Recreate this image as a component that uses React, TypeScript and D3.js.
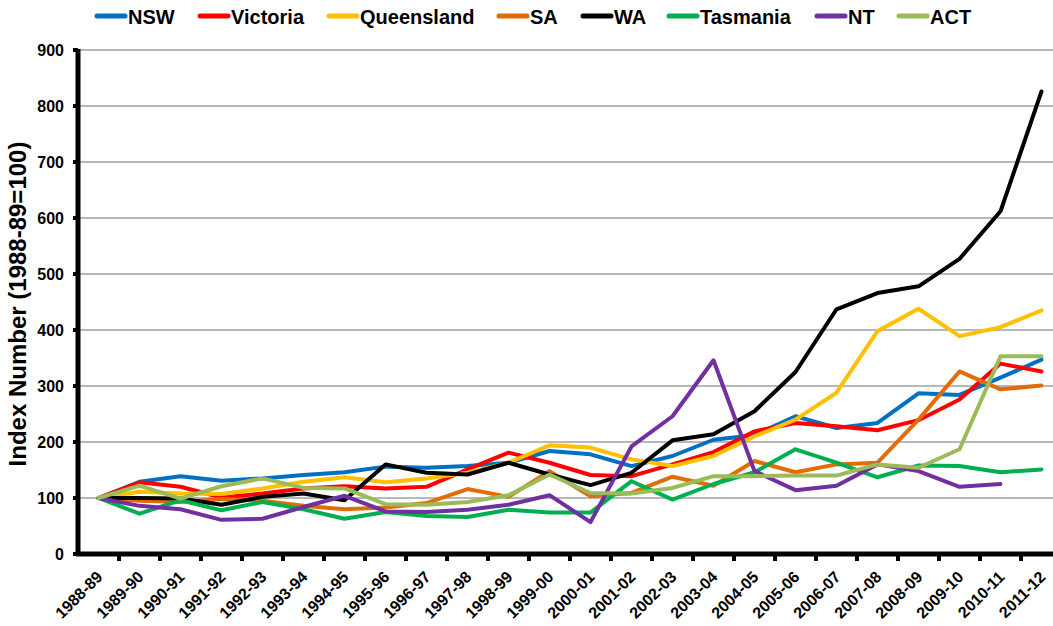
import React from "react";
import * as d3 from "d3";

const categories = [
  "1988-89", "1989-90", "1990-91", "1991-92", "1992-93", "1993-94", "1994-95", "1995-96",
  "1996-97", "1997-98", "1998-99", "1999-00", "2000-01", "2001-02", "2002-03", "2003-04",
  "2004-05", "2005-06", "2006-07", "2007-08", "2008-09", "2009-10", "2010-11", "2011-12",
];

const nsw = [100, 129, 139, 131, 135, 141, 146, 156, 154, 157, 163, 184, 178, 157, 175, 204, 212, 246, 225, 234, 287, 284, 315, 347];
const victoria = [100, 128, 120, 101, 108, 117, 121, 117, 120, 151, 181, 163, 141, 139, 160, 182, 219, 234, 228, 221, 239, 276, 340, 326];
const queensland = [100, 111, 108, 107, 117, 129, 137, 128, 135, 145, 163, 194, 190, 169, 157, 175, 210, 240, 288, 398, 438, 389, 405, 435];
const sa = [100, 95, 93, 98, 95, 86, 80, 83, 91, 116, 102, 148, 103, 109, 138, 122, 166, 146, 160, 163, 240, 326, 294, 301];
const wa = [100, 100, 99, 88, 102, 108, 96, 160, 145, 142, 163, 142, 123, 145, 203, 214, 255, 325, 437, 466, 478, 527, 612, 826];
const tasmania = [100, 72, 96, 78, 93, 80, 63, 75, 68, 66, 79, 74, 74, 130, 97, 125, 146, 187, 163, 137, 158, 157, 146, 151];
const nt: (number | null)[] = [100, 86, 80, 61, 63, 84, 104, 76, 75, 79, 88, 105, 57, 192, 246, 346, 148, 114, 122, 160, 148, 120, 125, null];
const act = [100, 122, 99, 121, 135, 118, 117, 89, 88, 93, 105, 142, 109, 108, 118, 139, 139, 140, 140, 160, 154, 187, 353, 353];

const yTicks = [0, 100, 200, 300, 400, 500, 600, 700, 800, 900];

const seriesNames = ["NSW", "Victoria", "Queensland", "SA", "WA", "Tasmania", "NT", "ACT"];
const seriesValues = [nsw, victoria, queensland, sa, wa, tasmania, nt, act];
const seriesColors = ["#0070C0", "#FF0000", "#FFC000", "#E36C09", "#000000", "#00B050", "#7030A0", "#9BBB59"];
const legendX = [95, 198, 327, 497, 581, 667, 815, 897];

const FONT = "'Liberation Sans', Arial, Helvetica, sans-serif";

export default function App() {
  const W = 1053;
  const H = 626;
  const left = 78;
  const x = d3.scaleBand<string>().domain(categories).range([left, left + 41 * 24]).padding(0);
  const y = d3.scaleLinear().domain([0, 900]).range([554, 50]);
  const cx = (c: string) => (x(c) as number) + x.bandwidth() / 2;

  const line = d3
    .line<number | null>()
    .defined((d) => d !== null)
    .x((_, i) => cx(categories[i]))
    .y((d) => y(d as number));

  return (
    <svg width={W} height={H} style={{ position: "absolute", left: 0, top: 0, background: "#fff" }} fontFamily={FONT}>
      {/* gridlines */}
      {yTicks.filter((t) => t > 0).map((t) => (
        <line key={"g" + t} x1={left} x2={W} y1={y(t)} y2={y(t)} stroke="#A0A0A0" strokeWidth={1.6} />
      ))}
      {/* series */}
      {seriesValues.map((vals, i) => (
        <path key={seriesNames[i]} d={line(vals) || ""} fill="none" stroke={seriesColors[i]} strokeWidth={4}
          strokeLinejoin="round" strokeLinecap="round" />
      ))}
      {/* y axis */}
      <line x1={left} x2={left} y1={y(900) - 1} y2={y(0) + 2} stroke="#000" strokeWidth={5} />
      {yTicks.map((t) => (
        <g key={"yt" + t}>
          <line x1={left - 5} x2={left} y1={y(t)} y2={y(t)} stroke="#000" strokeWidth={4} />
          <text x={64} y={y(t)} dy="0.36em" textAnchor="end" fontSize={16} fontWeight="bold" fill="#000">{t}</text>
        </g>
      ))}
      {/* x axis */}
      <line x1={left - 2} x2={W} y1={y(0)} y2={y(0)} stroke="#000" strokeWidth={5} />
      {categories.map((c, i) => (
        <line key={"xt" + c} x1={(x(c) as number) + x.bandwidth()} x2={(x(c) as number) + x.bandwidth()}
          y1={y(0)} y2={y(0) + 7} stroke="#000" strokeWidth={4} />
      ))}
      {categories.map((c) => (
        <text key={"xl" + c} transform={`translate(${cx(c) + 5},578) rotate(-45)`} textAnchor="end"
          fontSize={16} fontWeight="bold" fill="#000">{c}</text>
      ))}
      {/* y title */}
      <text transform="translate(26,304) rotate(-90)" textAnchor="middle" fontSize={24} fontWeight="bold" fill="#000">
        Index Number (1988-89=100)
      </text>
      {/* legend */}
      {seriesNames.map((n, i) => (
        <g key={"lg" + n}>
          <line x1={legendX[i] + 2} x2={legendX[i] + 30} y1={16} y2={16} stroke={seriesColors[i]} strokeWidth={5} strokeLinecap="round" />
          <text x={legendX[i] + 33} y={23.5} fontSize={20} fontWeight="bold" fill="#000">{n}</text>
        </g>
      ))}
    </svg>
  );
}
